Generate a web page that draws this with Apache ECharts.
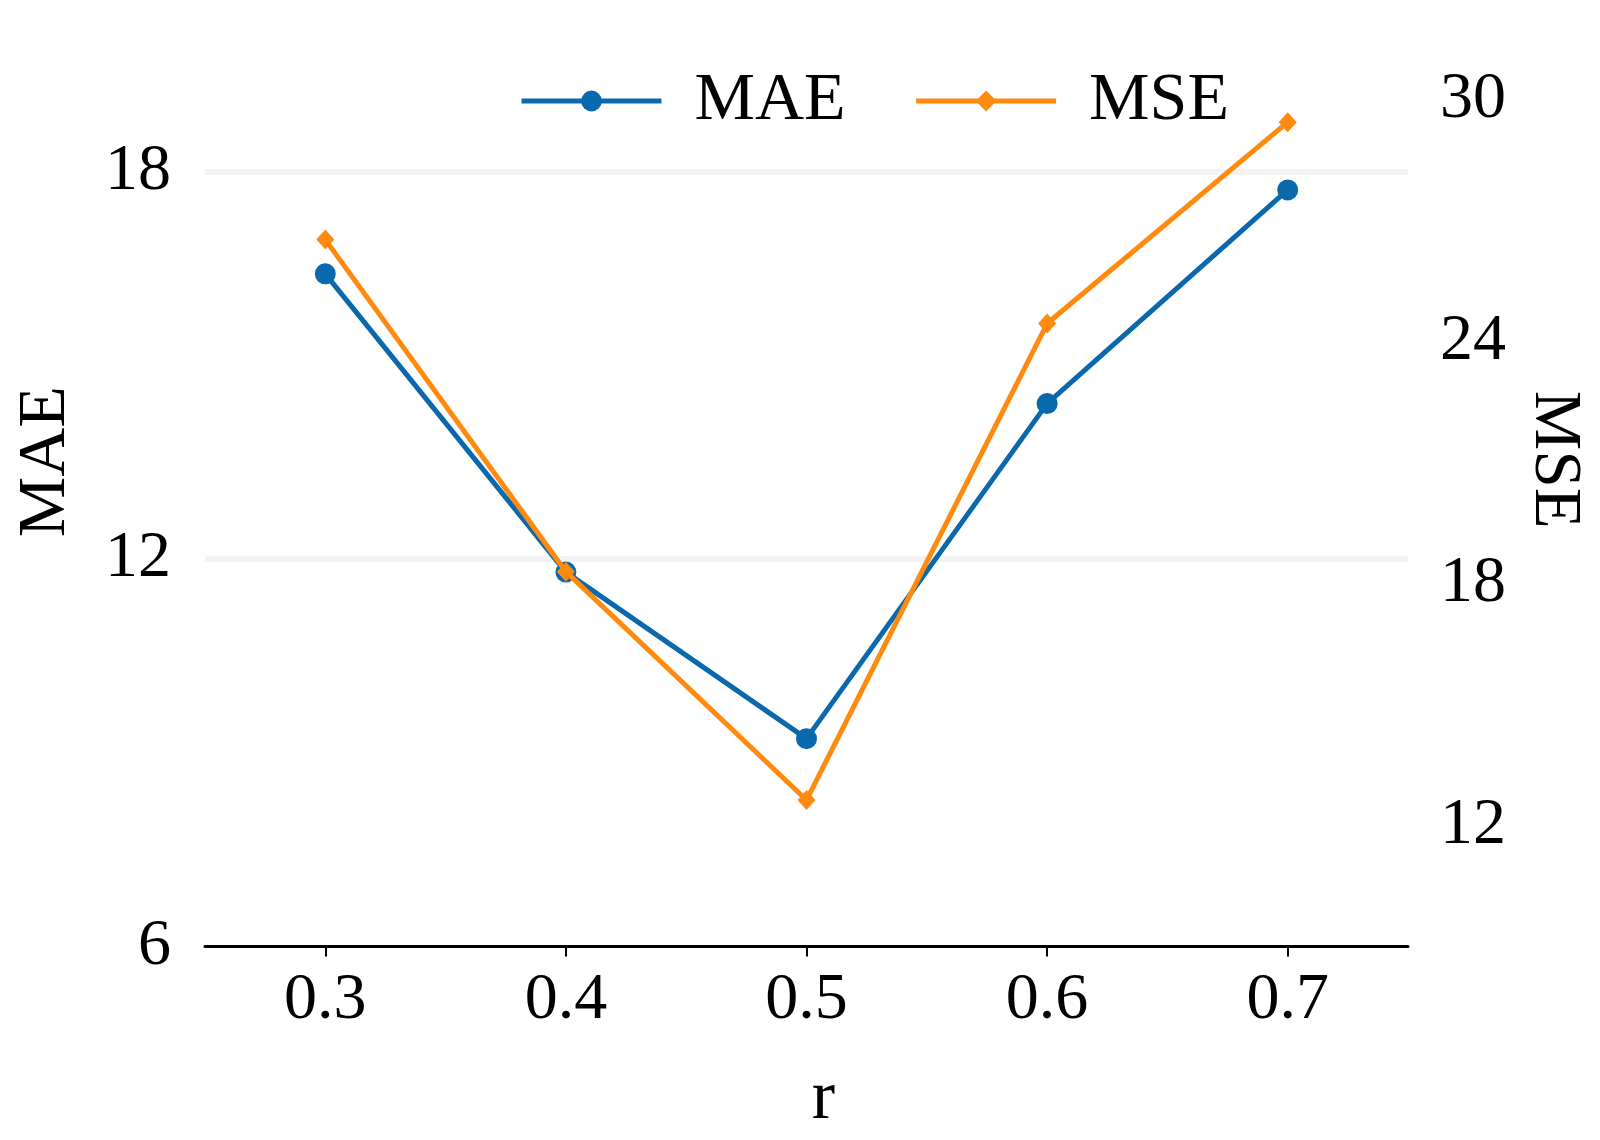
<!DOCTYPE html>
<html>
<head>
<meta charset="utf-8">
<script src="https://cdn.jsdelivr.net/npm/echarts@6/dist/echarts.min.js"></script>
<style>html,body{margin:0;padding:0;background:#fff;}#c{width:1600px;height:1140px;}</style>
</head>
<body>
<div id="c"></div>
<script>
const categories = ['0.3', '0.4', '0.5', '0.6', '0.7'];
const maeValues = [16.42, 11.80, 9.22, 14.41, 17.72];
const mseValues = [26.52, 18.29, 12.63, 24.44, 29.43];
const leftTicks = [6, 12, 18];
const rightTicks = [12, 18, 24, 30];

const FONT = 'Liberation Serif';
const chart = echarts.init(document.getElementById('c'), null, {renderer: 'canvas'});
chart.setOption({
  backgroundColor: '#ffffff',
  animation: false,
  grid: {left: 205, right: 192, top: 75, bottom: 193.5, containLabel: false, outerBoundsMode: 'none'},
  legend: {
    left: 514, top: 62,
    itemWidth: 140, itemHeight: 26, itemGap: 68,
    lineStyle: {width: 5},
    textStyle: {fontFamily: FONT, fontSize: 68, color: '#000', padding: [0, 0, 0, 28]},
    data: ['MAE', 'MSE']
  },
  xAxis: {
    type: 'category',
    data: categories,
    boundaryGap: true,
    name: 'r',
    nameLocation: 'middle',
    nameGap: 118,
    nameTextStyle: {fontFamily: FONT, fontSize: 70, color: '#000', padding: [0, 0, 0, 34]},
    axisLine: {show: true, lineStyle: {color: '#000', width: 3}},
    axisTick: {show: true, alignWithLabel: true, length: 10, lineStyle: {color: '#000', width: 2}},
    axisLabel: {fontFamily: FONT, fontSize: 66, color: '#000', margin: 21},
    splitLine: {show: false}
  },
  yAxis: [
    {
      type: 'value', min: 6, max: 19.5, interval: 6,
      name: 'MAE', nameLocation: 'middle', nameGap: 125, nameRotate: 90,
      nameTextStyle: {fontFamily: FONT, fontSize: 68, color: '#000', padding: [0, 0, 0, 98]},
      axisLine: {show: false}, axisTick: {show: false},
      axisLabel: {fontFamily: FONT, fontSize: 66, color: '#000', margin: 34,
        formatter: v => leftTicks.includes(v) ? String(v) : ''},
      splitLine: {show: true, showMinLine: false, showMaxLine: false, lineStyle: {color: '#f3f3f3', width: 6}}
    },
    {
      type: 'value', min: 9, max: 30.6, interval: 3,
      name: 'MSE', nameLocation: 'middle', nameGap: 112, nameRotate: -90,
      nameTextStyle: {fontFamily: FONT, fontSize: 67, color: '#000', padding: [0, 102, 0, 0]},
      axisLine: {show: false}, axisTick: {show: false},
      axisLabel: {fontFamily: FONT, fontSize: 66, color: '#000', margin: 32,
        formatter: v => rightTicks.includes(v) ? String(v) : ''},
      splitLine: {show: false}
    }
  ],
  series: [
    {
      name: 'MAE', type: 'line', yAxisIndex: 0, data: maeValues,
      symbol: 'circle', symbolSize: 21, showAllSymbol: true,
      lineStyle: {color: '#0a68ac', width: 5},
      itemStyle: {color: '#0a68ac'},
      z: 2
    },
    {
      name: 'MSE', type: 'line', yAxisIndex: 1, data: mseValues,
      symbol: 'diamond', symbolSize: [18, 20], showAllSymbol: true,
      lineStyle: {color: '#ff8a0d', width: 5},
      itemStyle: {color: '#ff8a0d'},
      z: 3
    }
  ]
});
</script>
</body>
</html>
